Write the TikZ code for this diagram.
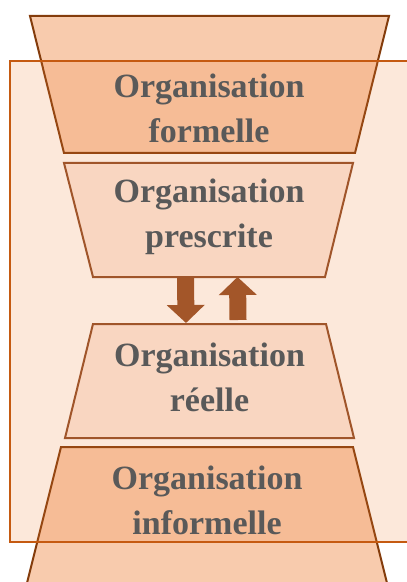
\documentclass[tikz,border=0pt]{standalone}
\usepackage{fontspec}
\setmainfont{Liberation Serif}
\usepackage{xcolor}
\usetikzlibrary{arrows.meta,positioning,calc}

\definecolor{peach}{HTML}{F8CBAD}
\definecolor{lightpeach}{HTML}{F9D6C1}
\definecolor{darkbrown}{HTML}{843C0C}
\definecolor{midbrown}{HTML}{A0552A}
\definecolor{frameorange}{HTML}{C55A11}
\definecolor{accentorange}{HTML}{ED7D31}
\definecolor{arrowbrown}{HTML}{A35629}
\definecolor{textgray}{HTML}{595959}

\begin{document}
\begin{tikzpicture}[x=0.5pt,y=-0.5pt,
  outerlevel/.style={draw=darkbrown, fill=peach, line width=1pt, line join=miter},
  innerlevel/.style={draw=midbrown, fill=lightpeach, line width=1pt, line join=miter},
  levellabel/.style={align=center, text=textgray, inner sep=0pt,
    font=\bfseries\fontsize{17}{22.5}\selectfont},
  frame/.style={draw=frameorange, line width=1pt, fill=accentorange,
    fill opacity=0.18},
  updown/.style={-{Triangle[width=18.5pt,length=9pt]}, line width=8.5pt,
    draw=arrowbrown}
]
\useasboundingbox (0,0) rectangle (406,582);

% outer layers, partly outside the frame
\draw[outerlevel] (30,16) -- (389,16) -- (355,153) -- (64,153) -- cycle;
\draw[outerlevel] (61,447) -- (353,447) -- (388,587) -- (26,587) -- cycle;

% frame over the outer layers
\draw[frame] (10,61) rectangle (430,542);

\node[levellabel] (formelle) at (209,108) {Organisation\\formelle};
\node[levellabel] (informelle) at (207,500) {Organisation\\informelle};

% inner layers
\draw[innerlevel] (64,163) -- (353,163) -- (325,277) -- (93,277) -- cycle;
\draw[innerlevel] (93,324) -- (326,324) -- (354,438) -- (65,438) -- cycle;
\coordinate (prescrite-s) at (209,277);
\coordinate (reelle-n) at (209.5,324);

\node[levellabel] (prescrite) at (209,217) {Organisation\\prescrite};
\node[levellabel] (reelle) at (209.5,377) {Organisation\\réelle};

\draw[updown] ($(prescrite-s)+(-23.5,1)$) -- ($(reelle-n)+(-23.5,-1)$);
\draw[updown] ($(reelle-n)+(28.5,-4)$) -- ($(prescrite-s)+(28.5,0)$);
\end{tikzpicture}
\end{document}
